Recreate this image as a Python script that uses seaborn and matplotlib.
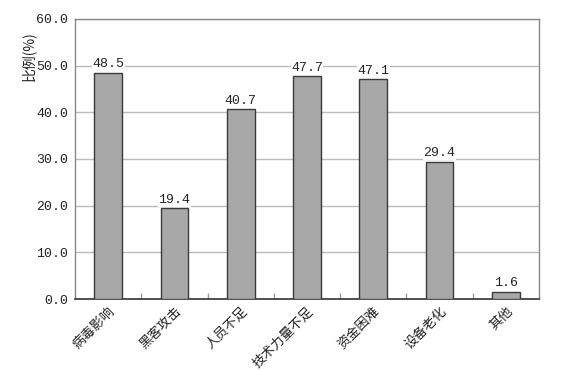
import matplotlib
matplotlib.use("Agg")
import matplotlib.pyplot as plt
import seaborn as sns
import pandas as pd
from matplotlib.ticker import MultipleLocator, FixedLocator

categories = ["病毒影响", "黑客攻击", "人员不足", "技术力量不足", "资金困难", "设备老化", "其他"]
values = [48.5, 19.4, 40.7, 47.7, 47.1, 29.4, 1.6]

sns.set_theme(style="white")
plt.rcParams['font.family'] = ['Noto Sans CJK SC', 'DejaVu Sans']
num_font = ['Liberation Mono', 'DejaVu Sans Mono']

df = pd.DataFrame({"cat": categories, "val": values})

fig = plt.figure(figsize=(5.62, 3.70), dpi=100)
ax = fig.add_axes([75/562, 1-299/370, (539-75)/562, (299-19)/370])

sns.barplot(data=df, x="cat", y="val", ax=ax, color="#A8A8A8", width=0.42,
            edgecolor="#3a3a3a", linewidth=1.0, saturation=1, zorder=3)

ax.set_ylim(0, 60)
ax.set_xlim(-0.5, len(categories) - 0.5)
ax.yaxis.set_major_locator(MultipleLocator(10))
ax.set_yticklabels([f"{v:.1f}" for v in ax.get_yticks()], fontsize=9.5, family=num_font, color="#222222")
ax.grid(axis="y", color="#BBBBBB", linewidth=1.0, zorder=0)
ax.set_axisbelow(True)

for i, v in enumerate(values):
    ax.text(i, v + 0.5, f"{v:.1f}", ha="center", va="bottom", fontsize=9.5, color="#222222", zorder=4,
            family=num_font, bbox=dict(facecolor="white", edgecolor="none", pad=0.3))

ax.set_xlabel("")
ax.set_ylabel("")
fig.text(29/562, 1-56/370, "比例(%)", rotation=90, ha="center", va="center", fontsize=10, color="#222222")
ax.set_xticks(range(len(categories)))
ax.set_xticklabels(categories, rotation=45, ha="right", rotation_mode="anchor", fontsize=9.5, color="#222222")
ax.tick_params(axis="x", length=0, pad=4)
ax.tick_params(axis="y", length=0, pad=5)
ax.xaxis.set_minor_locator(FixedLocator([i + 0.5 for i in range(len(categories) - 1)]))
ax.tick_params(axis="x", which="minor", direction="in", length=4, color="#999999", bottom=True)

for s in ["left", "top", "right"]:
    ax.spines[s].set_color("#888888")
    ax.spines[s].set_linewidth(1.0)
ax.spines["bottom"].set_color("#333333")
ax.spines["bottom"].set_linewidth(1.2)

fig.savefig("out.png", dpi=100)
